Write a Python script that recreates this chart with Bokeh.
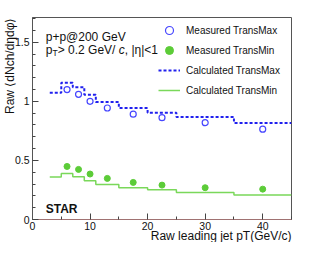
from bokeh.plotting import figure
from bokeh.models import (Range1d, FixedTicker, CustomJSTickFormatter, Label,
                          Legend, LegendItem, Title)
from bokeh.embed import file_html
from bokeh.resources import INLINE

# ---- data ----
x_meas = [6, 8, 10, 13, 17.5, 22.5, 30, 40]
transmax_meas = [1.10, 1.06, 1.00, 0.944, 0.892, 0.862, 0.82, 0.765]
transmin_meas = [0.449, 0.424, 0.385, 0.348, 0.314, 0.291, 0.269, 0.257]
bin_edges = [3, 5, 7, 9, 11, 15, 20, 25, 35, 45]
transmax_calc = [1.074, 1.158, 1.12, 1.057, 0.995, 0.944, 0.904, 0.868, 0.817]
transmin_calc = [0.36, 0.39, 0.362, 0.328, 0.297, 0.269, 0.252, 0.229, 0.207]
x_ticks = [0, 10, 20, 30, 40]
x_minor = [5, 15, 25, 35, 45]
y_ticks = [0, 0.5, 1, 1.5]
y_minor = [0.1, 0.2, 0.3, 0.4, 0.6, 0.7, 0.8, 0.9, 1.1, 1.2, 1.3, 1.4, 1.6, 1.7]
x_title = "Raw leading jet pT(GeV/c)"
y_title = "Raw \u27e8dNch/d\u03b7d\u03c6\u27e9"

FONT = "Liberation Sans"
BLUE_M = "#4646ff"
BLUE_L = "#2020ee"
GREEN_M = "#5ccc38"
GREEN_L = "#7ad85a"

p = figure(width=316, height=242, output_backend="svg", toolbar_location=None,
           x_range=Range1d(0, 45), y_range=Range1d(0, 1.71),
           min_border_left=32, min_border_right=25, min_border_top=17,
           min_border_bottom=23)
p.xgrid.visible = False
p.ygrid.visible = False
p.outline_line_color = "#555555"
p.outline_line_width = 1
p.background_fill_color = "white"

# axes
for ax in (p.xaxis[0], p.yaxis[0]):
    ax.major_tick_in = 6
    ax.major_tick_out = 0
    ax.minor_tick_in = 3
    ax.minor_tick_out = 0
    ax.major_tick_line_color = "#444444"
    ax.minor_tick_line_color = "#444444"
    ax.major_label_text_font = FONT
    ax.major_label_text_font_size = "10.5px"
    ax.major_label_text_color = "#111111"
    ax.formatter = CustomJSTickFormatter(code="return tick.toString()")
p.xaxis.ticker = FixedTicker(ticks=x_ticks, minor_ticks=x_minor)
p.yaxis.ticker = FixedTicker(ticks=y_ticks, minor_ticks=y_minor)
p.xaxis.major_label_standoff = 2
p.yaxis.major_label_standoff = 3
p.xaxis.axis_line_color = "#a07272"
p.yaxis.axis_line_color = "#555555"

# axis titles (ROOT style, aligned to the axis end)
p.add_layout(Title(text=x_title, align="right", vertical_align="top",
                   offset=0, standoff=-8, text_font=FONT,
                   text_font_size="12px", text_font_style="normal",
                   text_color="#111111"), "below")
p.add_layout(Title(text=y_title, align="right", vertical_align="top",
                   offset=0, standoff=-15, text_font=FONT,
                   text_font_size="12px", text_font_style="normal",
                   text_color="#111111"), "left")

# calculated steps
r_cmax = p.step(bin_edges, transmax_calc + [transmax_calc[-1]], mode="after",
                line_color=BLUE_L, line_width=2, line_dash="3 2")
r_cmin = p.step(bin_edges, transmin_calc + [transmin_calc[-1]], mode="after",
                line_color=GREEN_L, line_width=1.5)
# measured points
r_mmax = p.scatter(x_meas, transmax_meas, marker="circle", size=6,
                   fill_color=None, line_color=BLUE_M, line_width=1.2)
r_mmin = p.scatter(x_meas, transmin_meas, marker="circle", size=6,
                   fill_color=GREEN_M, line_color=GREEN_M)

legend = Legend(items=[
    LegendItem(label="Measured TransMax", renderers=[r_mmax]),
    LegendItem(label="Measured TransMin", renderers=[r_mmin]),
    LegendItem(label="Calculated TransMax", renderers=[r_cmax]),
    LegendItem(label="Calculated TransMin", renderers=[r_cmin]),
], location=(126, 119), glyph_width=22, glyph_height=20, label_height=20,
    label_standoff=6, spacing=0, padding=0, margin=0,
    border_line_alpha=0, background_fill_alpha=0,
    label_text_font=FONT, label_text_font_size="10px", label_text_color="#111111")
p.add_layout(legend, "center")


def piece(x, y, text, dx=0, dy=0, size="12px", style="normal"):
    p.add_layout(Label(x=x, y=y, text=text, x_offset=dx, y_offset=dy,
                       text_font=FONT, text_font_size=size,
                       text_font_style=style, text_color="#111111",
                       text_baseline="alphabetic"))


# annotations inside the frame
piece(2.3, 1.546, "p+p@200 GeV")
piece(2.3, 1.434, "p")
piece(2.3, 1.434, "T", dx=6.7, dy=-3, size="8.5px")
piece(2.3, 1.434, " > 0.2 GeV/", dx=12)
piece(2.3, 1.434, "c", dx=73, style="italic")
piece(2.3, 1.434, ", |\u03b7|<1", dx=79)
piece(2.3, 0.091, "STAR", style="bold")

open("out.html", "w").write(file_html(p, INLINE))
